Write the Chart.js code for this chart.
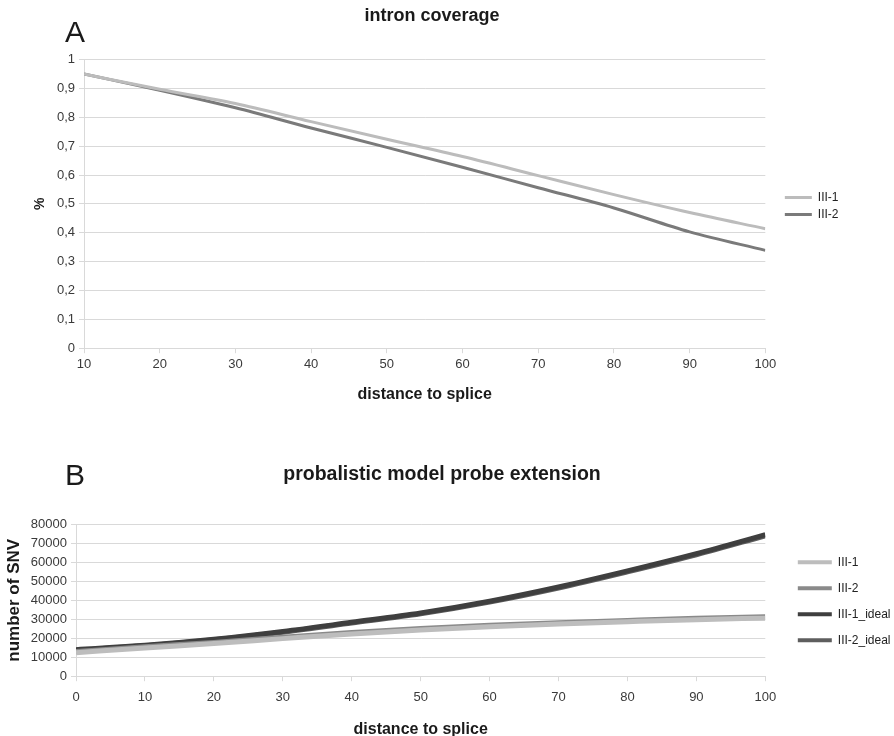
<!DOCTYPE html>
<html><head><meta charset="utf-8">
<script src="https://cdn.jsdelivr.net/npm/chart.js@4.4.0/dist/chart.umd.min.js"></script>
<style>
html,body{margin:0;padding:0;background:#fff}
body{width:894px;height:736px;position:relative;overflow:hidden;font-family:"Liberation Sans",Arial,sans-serif}
canvas{position:absolute;left:0}
#ca{top:0}
#cb{top:450px}
.lab{position:absolute;font-size:30px;color:#1a1a1a;left:65px;line-height:1}
</style></head><body>
<canvas id="ca" width="894" height="412"></canvas>
<canvas id="cb" width="894" height="294"></canvas>
<div class="lab" style="top:17px">A</div>
<div class="lab" style="top:460px">B</div>
<script>
// ---- Panel A data ----
const distA = [10, 20, 30, 40, 50, 60, 70, 80, 90, 100];
const covIII1 = [0.95, 0.897, 0.848, 0.785, 0.724, 0.664, 0.598, 0.532, 0.470, 0.414];
const covIII2 = [0.95, 0.894, 0.833, 0.763, 0.696, 0.627, 0.556, 0.486, 0.403, 0.339];
// ---- Panel B data ----
const distB = [0, 10, 20, 30, 40, 50, 60, 70, 80, 90, 100];
const snvIII1 = [12400, 14900, 17200, 19800, 22300, 24400, 26100, 27500, 28700, 29800, 30600];
const snvIII2 = [13000, 15500, 17800, 20500, 23000, 25100, 26800, 28200, 29400, 30500, 31300];
const snvIII1ideal = [14000, 16300, 19500, 23600, 28400, 33300, 39500, 47000, 55500, 64600, 74600];
const snvIII2ideal = [13700, 16000, 19200, 23200, 28000, 32900, 39100, 46500, 55000, 64000, 74000];
const labelsA = ['III-1', 'III-2'];
const labelsB = ['III-1', 'III-2', 'III-1_ideal', 'III-2_ideal'];

const pts = (xs, ys) => xs.map((x, i) => ({x: x, y: ys[i]}));
const FONT = '"Liberation Sans", Arial, sans-serif';
const gridCol = '#d9d9d9';
const tickCol = '#3a3a3a';
const fmtComma = v => { const r = Math.round(v * 10) / 10; return String(r).replace('.', ','); };

// moves the library legend sideways/vertically after layout
const legendShift = {
  id: 'legendShift',
  afterLayout(chart, args, opts) {
    const l = chart.legend;
    if (!l) return;
    l.left += opts.dx || 0; l.right += opts.dx || 0;
    l.top += opts.dy || 0; l.bottom += opts.dy || 0;
  }
};
// legend swatches as plain filled bars (no outline)
const flatLabels = chart => Chart.defaults.plugins.legend.labels.generateLabels(chart)
  .map(it => Object.assign(it, {lineWidth: 0}));

function ds(label, xs, ys, color, w) {
  return {label, data: pts(xs, ys), borderColor: color, backgroundColor: color,
    borderWidth: w, pointRadius: 0, cubicInterpolationMode: 'monotone', fill: false};
}

new Chart(document.getElementById('ca'), {
  type: 'line',
  data: {datasets: [
    ds(labelsA[0], distA, covIII1, '#bcbcbc', 3),
    ds(labelsA[1], distA, covIII2, '#7a7a7a', 3)
  ]},
  plugins: [legendShift],
  options: {
    responsive: false, animation: false, events: [],
    layout: {padding: {left: 30, right: 60, top: 4, bottom: 4}},
    plugins: {
      legendShift: {dx: 14.5, dy: 2},
      title: {display: true, text: 'intron coverage', color: '#1a1a1a',
        font: {family: FONT, size: 18, weight: 'bold'}, padding: {top: 1, bottom: 33}},
      legend: {position: 'right', align: 'center', fullSize: false,
        labels: {boxWidth: 27, boxHeight: 3, padding: 5, color: '#222', generateLabels: flatLabels,
          font: {family: FONT, size: 12}}},
      tooltip: {enabled: false}
    },
    scales: {
      x: {type: 'linear', min: 10, max: 100,
        ticks: {stepSize: 10, color: tickCol, font: {family: FONT, size: 13}, padding: 3, maxRotation: 0},
        grid: {drawOnChartArea: false, color: gridCol, tickLength: 5},
        border: {color: gridCol},
        title: {display: true, text: 'distance to splice', color: '#1a1a1a',
          font: {family: FONT, size: 16, weight: 'bold'}, padding: {top: 10}}},
      y: {min: 0, max: 1,
        afterFit: s => { s.width = 54; },
        ticks: {stepSize: 0.1, color: tickCol, font: {family: FONT, size: 13}, padding: 4, callback: fmtComma},
        grid: {color: gridCol, tickLength: 5},
        border: {color: gridCol},
        title: {display: true, text: '%', color: '#1a1a1a',
          font: {family: FONT, size: 14, weight: 'bold'}, padding: {top: 2, bottom: 0}}}
    }
  }
});

new Chart(document.getElementById('cb'), {
  type: 'line',
  data: {datasets: [
    ds(labelsB[0], distB, snvIII1, '#bdbdbd', 5),
    ds(labelsB[1], distB, snvIII2, '#8a8a8a', 5),
    ds(labelsB[2], distB, snvIII1ideal, '#3f3f3f', 5),
    ds(labelsB[3], distB, snvIII2ideal, '#5e5e5e', 5)
  ]},
  plugins: [legendShift],
  options: {
    responsive: false, animation: false, events: [],
    layout: {padding: {left: 2, right: 12, top: 0, bottom: 1}},
    plugins: {
      legendShift: {dx: 18.5, dy: 1},
      title: {display: true, text: 'probalistic model probe extension', color: '#1a1a1a',
        font: {family: FONT, size: 19.5, weight: 'bold'}, padding: {top: 13, bottom: 38}},
      legend: {position: 'right', align: 'center', fullSize: false,
        labels: {boxWidth: 34, boxHeight: 4, padding: 14, color: '#222', generateLabels: flatLabels,
          font: {family: FONT, size: 12}}},
      tooltip: {enabled: false}
    },
    scales: {
      x: {type: 'linear', min: 0, max: 100,
        ticks: {stepSize: 10, color: tickCol, font: {family: FONT, size: 13}, padding: 8, maxRotation: 0},
        grid: {drawOnChartArea: false, color: gridCol, tickLength: 5},
        border: {color: gridCol},
        title: {display: true, text: 'distance to splice', color: '#1a1a1a',
          font: {family: FONT, size: 16, weight: 'bold'}, padding: {top: 7}}},
      y: {min: 0, max: 80000,
        afterFit: s => { s.width = 74; },
        ticks: {stepSize: 10000, autoSkip: false, color: tickCol, font: {family: FONT, size: 13}, padding: 4,
          callback: v => String(v)},
        grid: {color: gridCol, tickLength: 5},
        border: {color: gridCol},
        title: {display: true, text: 'number of SNV', color: '#1a1a1a',
          font: {family: FONT, size: 17, weight: 'bold'}, padding: {top: 2, bottom: 2}}}
    }
  }
});
</script>
</body></html>
